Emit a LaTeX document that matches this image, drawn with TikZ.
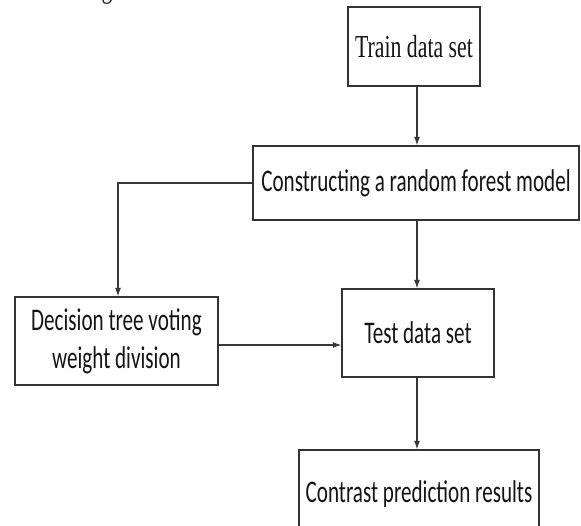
\documentclass[tikz,border=0pt]{standalone}
\usepackage{fontspec}
\setmainfont{Liberation Serif}
\newfontfamily\boxfont[FakeStretch=0.67]{Carlito}
\newfontfamily\serifnarrow[FakeStretch=0.68]{Liberation Serif}
\usetikzlibrary{arrows.meta,calc}
\tikzset{
  flowbox/.style={draw=black!80, line width=1.3pt, rectangle, inner sep=0pt,
    align=center, text=black!92, font=\boxfont\fontsize{31.5}{38}\selectfont},
  link/.style={draw=black!78, line width=1.1pt},
  linkarrow/.style={link, -{Latex[length=8.5pt,width=6pt]}}
}
\begin{document}
\begin{tikzpicture}[x=1pt,y=-1pt]
  \useasboundingbox (0,0) rectangle (581,526);
  \clip (0,0) rectangle (581,526);

  % tail of the caption line above the chart
  \node[anchor=base, inner sep=0pt, font=\serifnarrow\fontsize{32}{32}\selectfont, text=black!85] (cap) at (107,-2.5) {g};

  % boxes
  \node[flowbox, minimum width=132pt, minimum height=79pt,
        font=\serifnarrow\fontsize{32}{32}\selectfont] (train) at (414,46.5) {Train data set};
  \node[flowbox, minimum width=326pt, minimum height=74pt] (forest) at (416,183) {Constructing a random forest model};
  \node[flowbox, minimum width=203pt, minimum height=88pt] (vote) at (116.5,341) {Decision tree voting\\weight division};
  \node[flowbox, minimum width=152pt, minimum height=88pt] (test) at (418,333) {Test data set};
  \node[flowbox, minimum width=240pt, minimum height=88pt] (result) at (419,494) {Contrast prediction results};

  % connectors
  \coordinate (tA) at ([xshift=3pt]train.south);
  \draw[linkarrow] (tA) -- (tA |- forest.north);
  \coordinate (fB) at ([xshift=1pt]forest.south);
  \draw[linkarrow] (fB) -- (fB |- test.north);
  \draw[linkarrow] (forest.west) -| ([xshift=1.5pt]vote.north);
  \coordinate (vE) at ([yshift=-4pt]vote.east);
  \draw[linkarrow] (vE) -- (vE -| test.west);
  \coordinate (tS) at ([xshift=-1pt]test.south);
  \draw[linkarrow] (tS) -- (tS |- result.north);
\end{tikzpicture}
\end{document}
